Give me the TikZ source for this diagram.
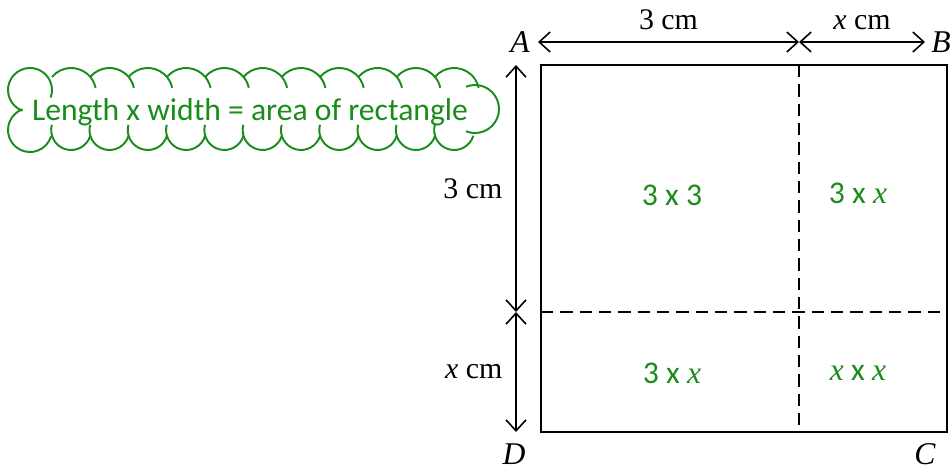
\documentclass[tikz,border=0pt]{standalone}
\usepackage{fontspec}
\setmainfont{Liberation Serif}
\setsansfont{Carlito}
\usepackage{tikz}
\usetikzlibrary{arrows.meta}
\definecolor{areagreen}{RGB}{25,140,25}
\tikzset{
  dim/.style={{Straight Barb[length=2.2mm,width=4mm]}-{Straight Barb[length=2.2mm,width=4mm]}, line width=0.9pt},
  side/.style={font=\fontsize{17}{20}\selectfont},
  corner/.style={font=\fontsize{18}{20}\selectfont\itshape, inner sep=0pt},
  cell/.style={text=areagreen, font=\sffamily\fontsize{18}{21}\selectfont},
  guide/.style={dash pattern=on 7pt off 4pt, line width=0.9pt},
  puff/.style={draw=areagreen, line width=1.1pt},
}
\newcommand{\vx}{{\rmfamily\itshape x}}
\begin{document}
\begin{tikzpicture}
\useasboundingbox (0,0) rectangle (19,9.4);
% square ABCD
\coordinate (A) at (10.82,8.10);
\coordinate (B) at (18.94,8.10);
\coordinate (C) at (18.94,0.76);
\coordinate (D) at (10.82,0.76);
\coordinate (T) at (15.98,8.10);
\coordinate (Bt) at (15.98,0.76);
\coordinate (L) at (10.82,3.16);
\coordinate (R) at (18.94,3.16);
\draw[line width=0.9pt] (A) rectangle (C);
\draw[guide] (T) -- (Bt);
\draw[guide] (L) -- (R);
% dimension lines
\coordinate (tA) at (10.76,8.56);
\coordinate (tM) at (15.98,8.56);
\coordinate (tB) at (18.5,8.56);
\coordinate (lA) at (10.32,8.10);
\coordinate (lM) at (10.32,3.16);
\coordinate (lD) at (10.32,0.76);
\draw[dim] (tA) -- node[side, above=3pt] {3 cm} (tM);
\draw[dim] (tM) -- node[side, above=3pt] {\textit{x} cm} (tB);
\draw[dim] (lA) -- node[side, left=4pt] {3 cm} (lM);
\draw[dim] (lM) -- node[side, left=4pt] {\textit{x} cm} (lD);
% corner letters
\node[corner] (nA) at (10.4,8.56) {A};
\node[corner] (nB) at (18.82,8.56) {B};
\node[corner] (nC) at (18.5,0.32) {C};
\node[corner] (nD) at (10.28,0.32) {D};
% areas
\node[cell] (c33) at (13.44,5.5) {3 x 3};
\node[cell] (c3x) at (17.16,5.54) {3 x \vx};
\node[cell] (cx3) at (13.44,1.94) {3 x \vx};
\node[cell] (cxx) at (17.16,1.94) {\vx{} x \vx};
% thought cloud
\foreach \i in {0,...,10} {
  \pgfmathsetmacro\cx{1.423+0.766*\i}
  \draw[puff] ([shift={(140:0.5)}]\cx,7.54) arc[start angle=140, end angle=12, radius=0.5];
  \draw[puff] ([shift={(165:0.4)}]\cx,6.80) arc[start angle=165, end angle=343, radius=0.4];
}
\draw[puff] ([shift={(250:0.44)}]0.60,7.60) arc[start angle=250, end angle=-20, radius=0.44];
\draw[puff] ([shift={(110:0.44)}]0.60,6.80) arc[start angle=110, end angle=343, radius=0.44];
\draw[puff] ([shift={(112:0.48)}]9.50,7.22) arc[start angle=112, end angle=-112, radius=0.48];
\node[text=areagreen, font=\sffamily\fontsize{18}{21}\selectfont] (ruletext) at (5.0,7.16) {Length x width = area of rectangle};
\end{tikzpicture}
\end{document}
